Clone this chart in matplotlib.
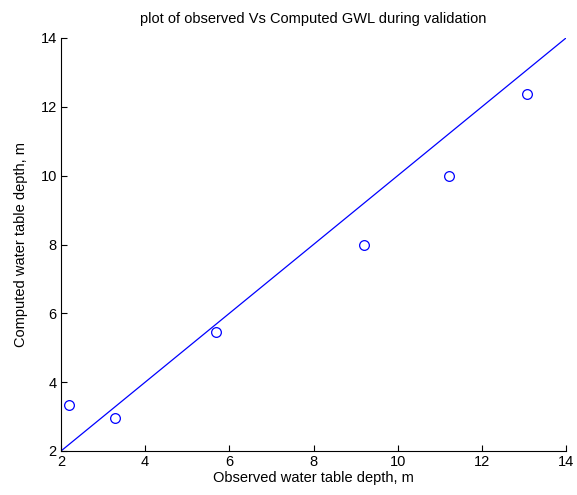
import matplotlib
matplotlib.use('Agg')
import matplotlib.pyplot as plt

plt.rcParams['font.family'] = ['Liberation Sans', 'DejaVu Sans']

observed = [2.19, 3.28, 5.68, 9.2, 11.22, 13.08]
computed = [3.34, 2.96, 5.47, 7.98, 10.0, 12.37]
line_x = [2, 14]
line_y = [2, 14]

fig = plt.figure(figsize=(5.77, 4.95), dpi=100)
ax = fig.add_axes([61/577, 1 - 451/495, (566-61)/577, (451-38)/495])

ax.plot(line_x, line_y, color='#0000ff', linewidth=0.9)
ax.plot(observed, computed, 'o', markerfacecolor='none', markeredgecolor='#0000ff',
        markersize=7, markeredgewidth=0.9)

ax.set_xlim(2, 14)
ax.set_ylim(2, 14)
ax.set_xticks([2, 4, 6, 8, 10, 12, 14])
ax.set_yticks([2, 4, 6, 8, 10, 12, 14])
ax.spines['top'].set_visible(False)
ax.spines['right'].set_visible(False)
ax.tick_params(direction='in', length=4, labelsize=10.5, pad=3)
ax.set_xlabel('Observed water table depth, m', fontsize=10.5, labelpad=1)
ax.set_ylabel('Computed water table depth, m', fontsize=10.5, labelpad=9)
ax.set_title('plot of observed Vs Computed GWL during validation', fontsize=10.5, pad=11)

fig.savefig('out.png', dpi=100)
